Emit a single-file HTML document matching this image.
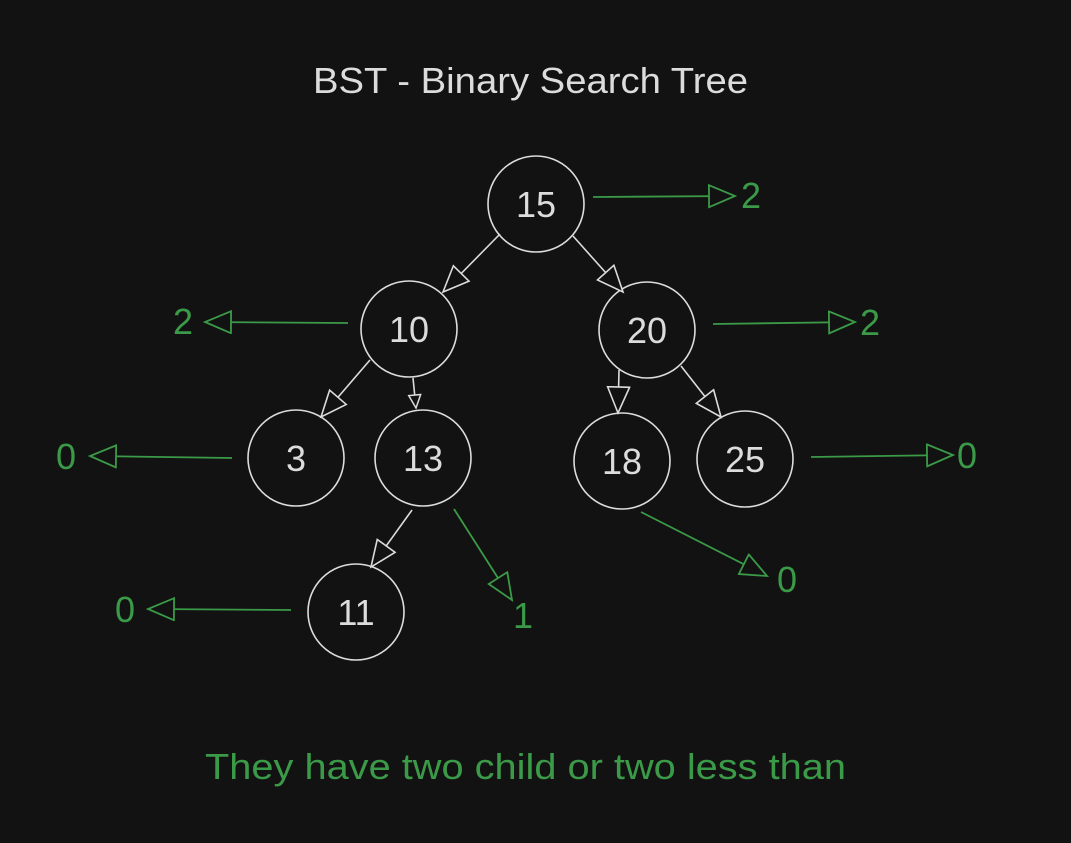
<!DOCTYPE html>
<html><head><meta charset="utf-8"><style>
html,body{margin:0;padding:0;background:#121212;}
svg{display:block}
text{font-family:"Liberation Sans","DejaVu Sans",sans-serif;}
</style></head><body>
<svg width="1071" height="843" viewBox="0 0 1071 843" xmlns="http://www.w3.org/2000/svg">
<defs>
<marker id="w" markerUnits="userSpaceOnUse" markerWidth="30" markerHeight="30" refX="27" refY="12" orient="auto">
<path d="M1,1 L27,12 L1,23 Z" fill="#121212" stroke="#dcdcdc" stroke-width="1.6"/>
</marker>
<marker id="ws" markerUnits="userSpaceOnUse" markerWidth="20" markerHeight="20" refX="14" refY="7" orient="auto">
<path d="M1,1 L14,7 L1,13 Z" fill="#121212" stroke="#dcdcdc" stroke-width="1.5"/>
</marker>
<marker id="g" markerUnits="userSpaceOnUse" markerWidth="30" markerHeight="30" refX="27" refY="12" orient="auto">
<path d="M1,1 L27,12 L1,23 Z" fill="#121212" stroke="#3b9a48" stroke-width="1.8"/>
</marker>
</defs>
<rect width="1071" height="843" fill="#121212"/>
<text x="313" y="93" font-size="36" fill="#dcdcdc" textLength="435" lengthAdjust="spacingAndGlyphs">BST - Binary Search Tree</text>
<g fill="none" stroke="#dcdcdc" stroke-width="1.6">
<circle cx="536" cy="204" r="48"/>
<circle cx="409" cy="329" r="48"/>
<circle cx="647" cy="330" r="48"/>
<circle cx="296" cy="458" r="48"/>
<circle cx="423" cy="458" r="48"/>
<circle cx="622" cy="461" r="48"/>
<circle cx="745" cy="459" r="48"/>
<circle cx="356" cy="612" r="48"/>
<line x1="500" y1="234" x2="443" y2="292" marker-end="url(#w)"/>
<line x1="573" y1="236" x2="623" y2="292" marker-end="url(#w)"/>
<line x1="370" y1="360" x2="321" y2="417" marker-end="url(#w)"/>
<line x1="413" y1="378" x2="416" y2="408" marker-end="url(#ws)"/>
<line x1="619" y1="370" x2="618" y2="413" marker-end="url(#w)"/>
<line x1="681" y1="366" x2="721" y2="417" marker-end="url(#w)"/>
<line x1="412" y1="510" x2="371" y2="567" marker-end="url(#w)"/>
</g>
<g stroke="#3b9a48" stroke-width="1.8" fill="none">
<line x1="593" y1="197" x2="735" y2="196" marker-end="url(#g)"/>
<line x1="348" y1="323" x2="205" y2="322" marker-end="url(#g)"/>
<line x1="713" y1="324" x2="855" y2="322" marker-end="url(#g)"/>
<line x1="232" y1="458" x2="90" y2="456" marker-end="url(#g)"/>
<line x1="811" y1="457" x2="953" y2="455" marker-end="url(#g)"/>
<line x1="291" y1="610" x2="148" y2="609" marker-end="url(#g)"/>
<line x1="454" y1="509" x2="512" y2="600" marker-end="url(#g)"/>
<line x1="641" y1="512" x2="767" y2="576" marker-end="url(#g)"/>
</g>
<g font-size="36" fill="#dcdcdc" text-anchor="middle">
<text x="536" y="217">15</text>
<text x="409" y="342">10</text>
<text x="647" y="343">20</text>
<text x="296" y="471">3</text>
<text x="423" y="471">13</text>
<text x="622" y="474">18</text>
<text x="745" y="472">25</text>
<text x="356" y="625">11</text>
</g>
<g font-size="36" fill="#3b9a48" text-anchor="middle">
<text x="751" y="208">2</text>
<text x="183" y="334">2</text>
<text x="870" y="335">2</text>
<text x="66" y="469">0</text>
<text x="967" y="468">0</text>
<text x="125" y="622">0</text>
<text x="523" y="628">1</text>
<text x="787" y="592">0</text>
</g>
<text x="205" y="779" font-size="36" fill="#3b9a48" textLength="641" lengthAdjust="spacingAndGlyphs">They have two child or two less than</text>
</svg>
</body></html>
